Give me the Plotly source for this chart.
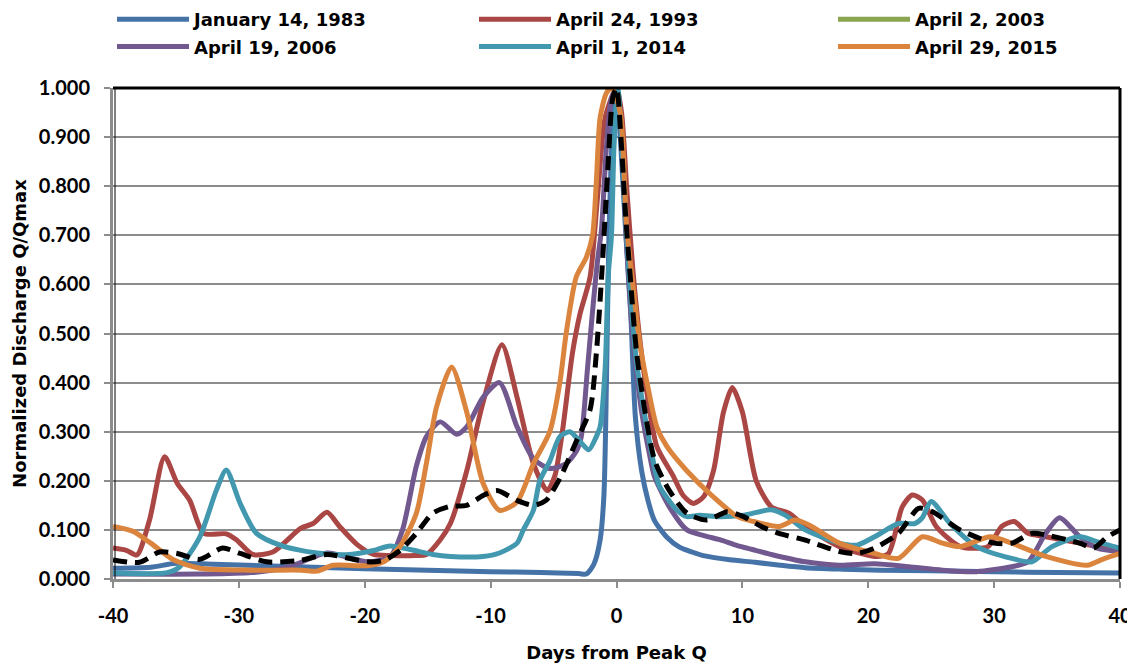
import plotly.graph_objects as go

# ---------------- data ----------------
days_1983 = [-40, -37, -35, -32, -28, -24, -20, -15, -10, -6, -3, -2.4, -1.8, -1.3, -1.0, -0.8, -0.6, -0.3, 0,
             0.3, 0.7, 1.1, 1.5, 2.0, 2.5, 3.0, 4.0, 5.0, 6.0, 7.0, 9.0, 11, 13, 15, 18, 21, 25, 30, 35, 40]
q_1983 = [0.022, 0.024, 0.032, 0.030, 0.027, 0.024, 0.021, 0.018, 0.015, 0.013, 0.011, 0.010, 0.03, 0.08, 0.17, 0.40,
          0.70, 0.92, 1.0, 0.90, 0.72, 0.56, 0.33, 0.22, 0.16, 0.12, 0.085, 0.065, 0.055, 0.047, 0.039, 0.034,
          0.028, 0.023, 0.020, 0.018, 0.017, 0.015, 0.013, 0.012]

days_1993 = [-40, -38.9, -38.1, -37.1, -35.9, -34.9, -33.9, -32.8, -31, -30.2, -28.9, -27.3, -25.1, -24.1, -23, -22,
             -20.6, -19.3, -18, -16, -15.1, -14, -13.2, -11.9, -10.6, -9.1, -7.9, -6.6, -5.5, -4.9, -4.3, -3.5, -2.9,
             -2.1, -1.5, -0.9, 0, 0.4, 0.8, 1.3, 1.8, 2.3, 3.2, 4.5, 5.3, 6.1, 6.9, 7.7, 8.5, 9.2, 10, 11.1, 12.3,
             13.7, 15, 17.7, 20.5, 21.6, 22.7, 23.5, 24.3, 25.4, 27.3, 29.5, 30.6, 31.6, 32.7, 34.1, 36.8, 39.5, 40]
q_1993 = [0.063, 0.058, 0.049, 0.12, 0.249, 0.195, 0.16, 0.093, 0.092, 0.08, 0.05, 0.055, 0.103, 0.113, 0.136, 0.107,
          0.07, 0.05, 0.048, 0.048, 0.05, 0.08, 0.113, 0.22, 0.36, 0.477, 0.37, 0.235, 0.18, 0.21, 0.30, 0.46, 0.54,
          0.615, 0.78, 0.94, 1.0, 0.95, 0.80, 0.63, 0.50, 0.40, 0.27, 0.21, 0.17, 0.154, 0.167, 0.22, 0.34, 0.39,
          0.34, 0.20, 0.147, 0.134, 0.107, 0.066, 0.046, 0.052, 0.147, 0.171, 0.161, 0.107, 0.066, 0.066, 0.107,
          0.117, 0.093, 0.086, 0.073, 0.059, 0.056]

# April 2, 2003: no curve is visible in the reference; only its (normalised) peak point is kept
days_2003 = [0]
q_2003 = [1.0]

days_2006 = [-40, -33, -29, -26, -23, -19.8, -18, -17, -15.9, -15.1, -14, -12.7, -11.9, -10.6, -9.3, -7.9, -6.6,
             -5.3, -4, -3.2, -2.8, -2.3, -1.85, -1.5, -1.2, -0.8, -0.4, 0, 0.4, 0.8, 1.2, 1.6, 2.0, 2.65, 3.0, 4.2,
             5.6, 7, 8.2, 9.6, 10.8, 12.3, 15, 17.7, 20.5, 23.2, 25.9, 28.6, 31.4, 32.7, 34.1, 35.2, 36.8, 38.2, 40]
q_2006 = [0.010, 0.010, 0.013, 0.025, 0.053, 0.035, 0.045, 0.10, 0.23, 0.29, 0.32, 0.295, 0.31, 0.37, 0.40, 0.31,
          0.245, 0.225, 0.235, 0.26, 0.29, 0.43, 0.56, 0.65, 0.71, 0.88, 0.98, 1.0, 0.90, 0.68, 0.52, 0.42, 0.34,
          0.25, 0.21, 0.147, 0.10, 0.088, 0.08, 0.068, 0.06, 0.05, 0.035, 0.028, 0.031, 0.025, 0.018, 0.015, 0.025,
          0.035, 0.093, 0.125, 0.086, 0.063, 0.056]

days_2014 = [-40, -35.7, -34.7, -33.1, -31.8, -31, -29.9, -28.6, -26.5, -23.8, -21.2, -19.3, -18, -16.4, -14.6,
             -13.2, -10.6, -9.3, -7.9, -7.4, -6.6, -6.1, -5.3, -4.5, -3.7, -2.9, -2.2, -1.6, -1.3, -0.9, -0.65, -0.4,
             -0.2, 0.1, 0.4, 0.8, 1.2, 1.6, 2.4, 3.0, 3.4, 4.8, 5.6, 6.6, 8.2, 10.1, 12.3, 13.4, 15, 17.7, 19.1, 20.5,
             22.4, 23.7, 24.3, 25.0, 26.5, 28.6, 31.4, 33, 34.6, 36.8, 38.5, 40]
q_2014 = [0.012, 0.013, 0.025, 0.086, 0.18, 0.222, 0.154, 0.093, 0.067, 0.053, 0.05, 0.058, 0.067, 0.06, 0.05,
          0.046, 0.046, 0.053, 0.073, 0.10, 0.14, 0.20, 0.24, 0.29, 0.30, 0.28, 0.263, 0.29, 0.31, 0.43, 0.62, 0.70,
          0.88, 1.0, 0.90, 0.70, 0.55, 0.44, 0.31, 0.23, 0.19, 0.14, 0.127, 0.13, 0.127, 0.13, 0.141, 0.13, 0.10,
          0.073, 0.069, 0.086, 0.113, 0.113, 0.125, 0.158, 0.113, 0.066, 0.042, 0.035, 0.066, 0.086, 0.073, 0.063]

days_2015 = [-40, -38.4, -37, -35.2, -33.1, -29, -25, -23.8, -22.5, -19.8, -18.5, -17.2, -15.9, -15.1, -14.3, -13.1,
             -11.9, -10.6, -9.3, -7.9, -6.6, -5.3, -4.5, -4, -3.2, -2.4, -1.9, -1.6, -1.3, -0.8, -0.4, 0.3, 0.8, 1.3,
             1.85, 2.5, 3.2, 4, 5.6, 7.7, 9.6, 10.9, 12.9, 14.2, 15.3, 17.7, 20.5, 22.4, 24.3, 25.9, 27.3, 29.7,
             31.4, 34.1, 37.4, 38.5, 40]
q_2015 = [0.107, 0.097, 0.073, 0.039, 0.022, 0.018, 0.018, 0.016, 0.028, 0.027, 0.035, 0.066, 0.134, 0.236, 0.35,
          0.432, 0.34, 0.195, 0.14, 0.157, 0.235, 0.30, 0.40, 0.50, 0.615, 0.655, 0.70, 0.81, 0.94, 0.99, 1.0, 0.95,
          0.72, 0.60, 0.48, 0.39, 0.31, 0.27, 0.22, 0.167, 0.127, 0.117, 0.107, 0.12, 0.11, 0.073, 0.052, 0.042,
          0.086, 0.073, 0.066, 0.086, 0.073, 0.046, 0.028, 0.039, 0.052]

days_avg = [-40, -37.9, -36.3, -34.9, -33.1, -31.3, -29.9, -27.8, -25.1, -23, -19.8, -18.5, -17.2, -15.9, -14.6,
            -13.2, -11.9, -10.6, -9.5, -7.9, -6.6, -5.6, -4.5, -3.2, -2.1, -1.6, -1.1, -0.7, -0.3, 0, 0.4, 0.7,
            1.05, 1.6, 2.4, 3.05, 4.2, 5.6, 7.2, 8.8, 10.1, 11.5, 12.9, 15, 17.7, 19.1, 20.5, 22.4, 24, 25.1, 27.3,
            30, 31.4, 33, 34.1, 36.8, 37.9, 39, 40]
q_avg = [0.039, 0.034, 0.055, 0.052, 0.04, 0.063, 0.052, 0.035, 0.038, 0.05, 0.035, 0.038, 0.058, 0.093, 0.134,
         0.148, 0.15, 0.17, 0.18, 0.16, 0.15, 0.16, 0.205, 0.28, 0.345, 0.46, 0.65, 0.83, 0.98, 1.0, 0.88, 0.75,
         0.63, 0.46, 0.32, 0.24, 0.18, 0.134, 0.12, 0.137, 0.127, 0.107, 0.093, 0.079, 0.056, 0.052, 0.063, 0.093,
         0.144, 0.137, 0.10, 0.073, 0.073, 0.093, 0.09, 0.073, 0.063, 0.086, 0.10]

series_names = ["January 14, 1983", "April 24, 1993", "April 2, 2003",
                "April 19, 2006", "April 1, 2014", "April 29, 2015"]
series_days = [days_1983, days_1993, days_2003, days_2006, days_2014, days_2015]
series_q = [q_1983, q_1993, q_2003, q_2006, q_2014, q_2015]
series_colors = ["#4572A7", "#AA4643", "#89A54E", "#71588F", "#4198AF", "#DB843D"]
legend_column = ["legend", "legend2", "legend3", "legend", "legend2", "legend3"]

x_ticks = [-40, -30, -20, -10, 0, 10, 20, 30, 40]
y_ticks = [0.0, 0.1, 0.2, 0.3, 0.4, 0.5, 0.6, 0.7, 0.8, 0.9, 1.0]

TICK_FONT = "Lato"
TEXT_FONT = "DejaVu Sans"

# the page body adds an 8 px offset, so the figure is laid out 8 px smaller
OFF = 8
FIG_W, FIG_H = 1135 - OFF, 667 - OFF
PLOT_L, PLOT_W, PLOT_T, PLOT_H = 113 - OFF, 1007, 88 - OFF, 491

fig = go.Figure()
for i, (name, xs, ys, col) in enumerate(zip(series_names, series_days, series_q, series_colors)):
    fig.add_trace(go.Scatter(
        x=xs, y=ys, name=name, mode="lines", legend=legend_column[i], legendgroup="g%d" % i,
        line=dict(color=col, width=5, shape="spline", smoothing=0.7),
    ))

fig.add_trace(go.Scatter(
    x=days_avg, y=q_avg, name="Average", mode="lines", showlegend=False,
    line=dict(color="black", width=5, dash="14px,8px", shape="spline", smoothing=0.7),
))


def legend_box(text_left_px):
    item_w = 72
    x_px = text_left_px - OFF - item_w - 12
    return dict(
        orientation="v",
        x=(x_px - PLOT_L) / PLOT_W, xanchor="left",
        y=1 + (PLOT_T + 7) / PLOT_H, yanchor="top",
        font=dict(family=TEXT_FONT, size=18, color="black", weight="bold"),
        itemwidth=item_w, tracegroupgap=1, bgcolor="rgba(0,0,0,0)", borderwidth=0,
    )


fig.update_layout(
    width=FIG_W, height=FIG_H,
    margin=dict(l=PLOT_L, r=FIG_W - PLOT_L - PLOT_W, t=PLOT_T, b=FIG_H - PLOT_T - PLOT_H, autoexpand=False),
    paper_bgcolor="white", plot_bgcolor="white",
    font=dict(family=TEXT_FONT, color="black", size=18),
    legend=legend_box(196),
    legend2=legend_box(558),
    legend3=legend_box(917),
    xaxis=dict(
        range=[-40, 40], tickvals=x_ticks, ticktext=[str(v) for v in x_ticks],
        showgrid=False, zeroline=False, automargin=False,
        showline=True, linecolor="#8c8c8c", linewidth=3,
        ticks="outside", ticklen=6, tickwidth=2, tickcolor="#8c8c8c",
        tickfont=dict(family=TICK_FONT, size=20, weight="bold"),
        ticklabelstandoff=11,
        title=dict(text="Days from Peak Q", font=dict(family=TEXT_FONT, size=18, weight="bold"), standoff=21),
    ),
    yaxis=dict(
        range=[0, 1.0], tickvals=y_ticks, ticktext=["%.3f" % v for v in y_ticks],
        showgrid=True, gridcolor="#8c8c8c", gridwidth=2, zeroline=False, automargin=False,
        showline=True, linecolor="#8c8c8c", linewidth=3,
        ticks="outside", ticklen=6, tickwidth=2, tickcolor="#8c8c8c",
        tickfont=dict(family=TICK_FONT, size=20, weight="bold"),
        ticklabelstandoff=10,
        title=dict(text="Normalized Discharge Q/Qmax", font=dict(family=TEXT_FONT, size=18, weight="bold"),
                   standoff=8),
    ),
    shapes=[
        dict(type="line", xref="x domain", yref="y domain", x0=0, x1=1, y0=1, y1=1,
             line=dict(color="black", width=3), layer="above"),
        dict(type="line", xref="x domain", yref="y domain", x0=1, x1=1, y0=0, y1=1,
             line=dict(color="black", width=3), layer="above"),
        dict(type="line", xref="x domain", yref="y domain", x0=0.002, x1=0.002, y0=0, y1=1,
             line=dict(color="black", width=1), layer="above"),
    ],
)

fig.write_html("out.html")
